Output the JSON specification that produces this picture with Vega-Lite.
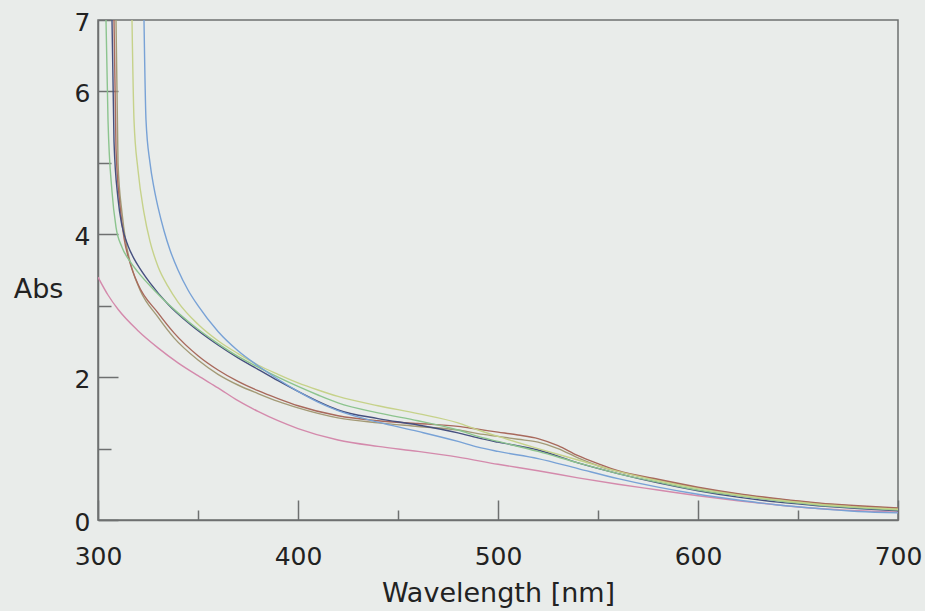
{
  "$schema": "https://vega.github.io/schema/vega-lite/v6.json",
  "width": 800,
  "height": 500,
  "autosize": {"type": "none"},
  "padding": {"left": 98, "top": 20, "right": 27, "bottom": 91},
  "background": "#e9ecea",
  "config": {
    "view": {"stroke": "#6e7070", "strokeWidth": 1.5},
    "axis": {
      "grid": false,
      "domainColor": "#6e7070",
      "domainWidth": 1.5,
      "tickColor": "#6e7070",
      "tickWidth": 1.5,
      "labelFont": "DejaVu Sans",
      "labelFontSize": 25,
      "labelColor": "#222222",
      "titleFont": "DejaVu Sans",
      "titleFontSize": 27,
      "titleFontWeight": "normal",
      "titleColor": "#222222"
    }
  },
  "datasets": {
    "spectra": [
      {"s": "pink", "w": 300, "a": 3.4}, {"s": "pink", "w": 305, "a": 3.15}, {"s": "pink", "w": 310, "a": 2.95}, {"s": "pink", "w": 320, "a": 2.65}, {"s": "pink", "w": 330, "a": 2.41}, {"s": "pink", "w": 340, "a": 2.2}, {"s": "pink", "w": 350, "a": 2.02}, {"s": "pink", "w": 360, "a": 1.85}, {"s": "pink", "w": 370, "a": 1.67}, {"s": "pink", "w": 380, "a": 1.52}, {"s": "pink", "w": 390, "a": 1.39}, {"s": "pink", "w": 400, "a": 1.28}, {"s": "pink", "w": 420, "a": 1.12}, {"s": "pink", "w": 440, "a": 1.03}, {"s": "pink", "w": 460, "a": 0.96}, {"s": "pink", "w": 480, "a": 0.88}, {"s": "pink", "w": 500, "a": 0.78}, {"s": "pink", "w": 520, "a": 0.69}, {"s": "pink", "w": 540, "a": 0.59}, {"s": "pink", "w": 560, "a": 0.5}, {"s": "pink", "w": 580, "a": 0.42}, {"s": "pink", "w": 600, "a": 0.34}, {"s": "pink", "w": 620, "a": 0.27}, {"s": "pink", "w": 640, "a": 0.21}, {"s": "pink", "w": 660, "a": 0.16}, {"s": "pink", "w": 680, "a": 0.13}, {"s": "pink", "w": 700, "a": 0.11},

      {"s": "olive", "w": 309, "a": 7}, {"s": "olive", "w": 310, "a": 5.0}, {"s": "olive", "w": 312, "a": 4.3}, {"s": "olive", "w": 314, "a": 3.88}, {"s": "olive", "w": 317, "a": 3.52}, {"s": "olive", "w": 321, "a": 3.22}, {"s": "olive", "w": 330, "a": 2.84}, {"s": "olive", "w": 338, "a": 2.55}, {"s": "olive", "w": 350, "a": 2.24}, {"s": "olive", "w": 360, "a": 2.04}, {"s": "olive", "w": 370, "a": 1.89}, {"s": "olive", "w": 380, "a": 1.77}, {"s": "olive", "w": 390, "a": 1.66}, {"s": "olive", "w": 400, "a": 1.57}, {"s": "olive", "w": 420, "a": 1.43}, {"s": "olive", "w": 440, "a": 1.36}, {"s": "olive", "w": 460, "a": 1.31}, {"s": "olive", "w": 480, "a": 1.26}, {"s": "olive", "w": 490, "a": 1.21}, {"s": "olive", "w": 500, "a": 1.17}, {"s": "olive", "w": 510, "a": 1.13}, {"s": "olive", "w": 520, "a": 1.09}, {"s": "olive", "w": 530, "a": 1.0}, {"s": "olive", "w": 540, "a": 0.87}, {"s": "olive", "w": 550, "a": 0.76}, {"s": "olive", "w": 560, "a": 0.68}, {"s": "olive", "w": 580, "a": 0.56}, {"s": "olive", "w": 600, "a": 0.45}, {"s": "olive", "w": 620, "a": 0.36}, {"s": "olive", "w": 640, "a": 0.29}, {"s": "olive", "w": 660, "a": 0.23}, {"s": "olive", "w": 680, "a": 0.19}, {"s": "olive", "w": 700, "a": 0.16},

      {"s": "red", "w": 308, "a": 7}, {"s": "red", "w": 309, "a": 5.2}, {"s": "red", "w": 311, "a": 4.4}, {"s": "red", "w": 313, "a": 3.95}, {"s": "red", "w": 316, "a": 3.6}, {"s": "red", "w": 320, "a": 3.3}, {"s": "red", "w": 330, "a": 2.9}, {"s": "red", "w": 338, "a": 2.62}, {"s": "red", "w": 350, "a": 2.3}, {"s": "red", "w": 360, "a": 2.1}, {"s": "red", "w": 370, "a": 1.94}, {"s": "red", "w": 380, "a": 1.81}, {"s": "red", "w": 390, "a": 1.7}, {"s": "red", "w": 400, "a": 1.6}, {"s": "red", "w": 420, "a": 1.46}, {"s": "red", "w": 440, "a": 1.39}, {"s": "red", "w": 460, "a": 1.35}, {"s": "red", "w": 480, "a": 1.31}, {"s": "red", "w": 490, "a": 1.27}, {"s": "red", "w": 500, "a": 1.23}, {"s": "red", "w": 510, "a": 1.19}, {"s": "red", "w": 520, "a": 1.14}, {"s": "red", "w": 530, "a": 1.04}, {"s": "red", "w": 540, "a": 0.9}, {"s": "red", "w": 550, "a": 0.79}, {"s": "red", "w": 560, "a": 0.69}, {"s": "red", "w": 580, "a": 0.57}, {"s": "red", "w": 600, "a": 0.46}, {"s": "red", "w": 620, "a": 0.37}, {"s": "red", "w": 640, "a": 0.3}, {"s": "red", "w": 660, "a": 0.24}, {"s": "red", "w": 680, "a": 0.2}, {"s": "red", "w": 700, "a": 0.17},

      {"s": "navy", "w": 307, "a": 7}, {"s": "navy", "w": 308, "a": 5.3}, {"s": "navy", "w": 310, "a": 4.5}, {"s": "navy", "w": 312, "a": 4.12}, {"s": "navy", "w": 315, "a": 3.84}, {"s": "navy", "w": 318, "a": 3.66}, {"s": "navy", "w": 321, "a": 3.52}, {"s": "navy", "w": 326, "a": 3.32}, {"s": "navy", "w": 335, "a": 3.02}, {"s": "navy", "w": 346, "a": 2.74}, {"s": "navy", "w": 360, "a": 2.45}, {"s": "navy", "w": 370, "a": 2.27}, {"s": "navy", "w": 380, "a": 2.11}, {"s": "navy", "w": 390, "a": 1.95}, {"s": "navy", "w": 400, "a": 1.8}, {"s": "navy", "w": 410, "a": 1.66}, {"s": "navy", "w": 420, "a": 1.54}, {"s": "navy", "w": 440, "a": 1.42}, {"s": "navy", "w": 460, "a": 1.33}, {"s": "navy", "w": 480, "a": 1.22}, {"s": "navy", "w": 490, "a": 1.15}, {"s": "navy", "w": 500, "a": 1.09}, {"s": "navy", "w": 520, "a": 0.98}, {"s": "navy", "w": 540, "a": 0.8}, {"s": "navy", "w": 560, "a": 0.65}, {"s": "navy", "w": 580, "a": 0.52}, {"s": "navy", "w": 600, "a": 0.41}, {"s": "navy", "w": 620, "a": 0.32}, {"s": "navy", "w": 640, "a": 0.25}, {"s": "navy", "w": 660, "a": 0.2}, {"s": "navy", "w": 680, "a": 0.16}, {"s": "navy", "w": 700, "a": 0.13},

      {"s": "green", "w": 304, "a": 7}, {"s": "green", "w": 305, "a": 5.6}, {"s": "green", "w": 307, "a": 4.6}, {"s": "green", "w": 309, "a": 4.1}, {"s": "green", "w": 312, "a": 3.82}, {"s": "green", "w": 316, "a": 3.62}, {"s": "green", "w": 320, "a": 3.47}, {"s": "green", "w": 328, "a": 3.22}, {"s": "green", "w": 340, "a": 2.9}, {"s": "green", "w": 350, "a": 2.67}, {"s": "green", "w": 360, "a": 2.47}, {"s": "green", "w": 370, "a": 2.29}, {"s": "green", "w": 380, "a": 2.14}, {"s": "green", "w": 390, "a": 2.0}, {"s": "green", "w": 400, "a": 1.87}, {"s": "green", "w": 410, "a": 1.75}, {"s": "green", "w": 420, "a": 1.64}, {"s": "green", "w": 440, "a": 1.5}, {"s": "green", "w": 460, "a": 1.39}, {"s": "green", "w": 480, "a": 1.26}, {"s": "green", "w": 490, "a": 1.17}, {"s": "green", "w": 500, "a": 1.1}, {"s": "green", "w": 520, "a": 0.96}, {"s": "green", "w": 540, "a": 0.8}, {"s": "green", "w": 560, "a": 0.65}, {"s": "green", "w": 580, "a": 0.53}, {"s": "green", "w": 600, "a": 0.42}, {"s": "green", "w": 620, "a": 0.34}, {"s": "green", "w": 640, "a": 0.27}, {"s": "green", "w": 660, "a": 0.21}, {"s": "green", "w": 680, "a": 0.17}, {"s": "green", "w": 700, "a": 0.14},

      {"s": "yellow", "w": 317, "a": 7}, {"s": "yellow", "w": 318, "a": 5.6}, {"s": "yellow", "w": 320, "a": 4.9}, {"s": "yellow", "w": 323, "a": 4.3}, {"s": "yellow", "w": 326, "a": 3.9}, {"s": "yellow", "w": 330, "a": 3.55}, {"s": "yellow", "w": 335, "a": 3.27}, {"s": "yellow", "w": 340, "a": 3.05}, {"s": "yellow", "w": 350, "a": 2.74}, {"s": "yellow", "w": 360, "a": 2.51}, {"s": "yellow", "w": 370, "a": 2.33}, {"s": "yellow", "w": 380, "a": 2.17}, {"s": "yellow", "w": 390, "a": 2.04}, {"s": "yellow", "w": 400, "a": 1.92}, {"s": "yellow", "w": 410, "a": 1.82}, {"s": "yellow", "w": 420, "a": 1.73}, {"s": "yellow", "w": 440, "a": 1.6}, {"s": "yellow", "w": 460, "a": 1.49}, {"s": "yellow", "w": 480, "a": 1.36}, {"s": "yellow", "w": 490, "a": 1.26}, {"s": "yellow", "w": 500, "a": 1.17}, {"s": "yellow", "w": 520, "a": 1.0}, {"s": "yellow", "w": 540, "a": 0.84}, {"s": "yellow", "w": 560, "a": 0.68}, {"s": "yellow", "w": 580, "a": 0.55}, {"s": "yellow", "w": 600, "a": 0.44}, {"s": "yellow", "w": 620, "a": 0.35}, {"s": "yellow", "w": 640, "a": 0.28}, {"s": "yellow", "w": 660, "a": 0.22}, {"s": "yellow", "w": 680, "a": 0.18}, {"s": "yellow", "w": 700, "a": 0.15},

      {"s": "blue", "w": 323, "a": 7}, {"s": "blue", "w": 324, "a": 5.6}, {"s": "blue", "w": 326, "a": 5.0}, {"s": "blue", "w": 328, "a": 4.65}, {"s": "blue", "w": 330, "a": 4.38}, {"s": "blue", "w": 333, "a": 4.05}, {"s": "blue", "w": 336, "a": 3.78}, {"s": "blue", "w": 340, "a": 3.5}, {"s": "blue", "w": 345, "a": 3.22}, {"s": "blue", "w": 350, "a": 3.0}, {"s": "blue", "w": 360, "a": 2.64}, {"s": "blue", "w": 370, "a": 2.37}, {"s": "blue", "w": 380, "a": 2.16}, {"s": "blue", "w": 390, "a": 1.97}, {"s": "blue", "w": 400, "a": 1.8}, {"s": "blue", "w": 410, "a": 1.65}, {"s": "blue", "w": 420, "a": 1.53}, {"s": "blue", "w": 440, "a": 1.37}, {"s": "blue", "w": 460, "a": 1.24}, {"s": "blue", "w": 480, "a": 1.1}, {"s": "blue", "w": 490, "a": 1.02}, {"s": "blue", "w": 500, "a": 0.96}, {"s": "blue", "w": 520, "a": 0.86}, {"s": "blue", "w": 540, "a": 0.72}, {"s": "blue", "w": 560, "a": 0.58}, {"s": "blue", "w": 580, "a": 0.46}, {"s": "blue", "w": 600, "a": 0.36}, {"s": "blue", "w": 620, "a": 0.28}, {"s": "blue", "w": 640, "a": 0.21}, {"s": "blue", "w": 660, "a": 0.16}, {"s": "blue", "w": 680, "a": 0.12}, {"s": "blue", "w": 700, "a": 0.1}
    ]
  },
  "data": {"name": "spectra"},
  "mark": {"type": "line", "interpolate": "monotone", "strokeWidth": 1.4, "clip": true},
  "encoding": {
    "x": {
      "field": "w",
      "type": "quantitative",
      "scale": {"domain": [300, 700], "nice": false, "zero": false},
      "axis": {
        "title": "Wavelength [nm]",
        "values": [300, 350, 400, 450, 500, 550, 600, 650, 700],
        "labelExpr": "datum.value % 100 === 0 ? datum.label : ''",
        "labelFlush": false,
        "labelOverlap": false,
        "tickSize": {"condition": {"test": "datum.value % 100 === 0", "value": -20}, "value": -10},
        "labelPadding": 44,
        "titleY": 60,
        "titleBaseline": "top"
      }
    },
    "y": {
      "field": "a",
      "type": "quantitative",
      "scale": {"domain": [0, 7], "nice": false},
      "axis": {
        "title": "Abs",
        "titleAngle": 0,
        "titleAlign": "center",
        "titleBaseline": "alphabetic",
        "titleX": -60,
        "titleY": 277,
        "values": [0, 1, 2, 3, 4, 5, 6, 7],
        "labelExpr": "datum.value % 2 === 0 || datum.value === 7 ? datum.label : ''",
        "labelFlush": false,
        "labelOverlap": false,
        "labelOffset": 2,
        "tickSize": {"condition": {"test": "datum.value % 2 === 1", "value": -13}, "value": -20},
        "labelPadding": {"condition": {"test": "datum.value % 2 === 1", "value": 21}, "value": 28}
      }
    },
    "color": {
      "field": "s",
      "type": "nominal",
      "scale": {
        "domain": ["pink", "olive", "red", "navy", "green", "yellow", "blue"],
        "range": ["#d48aac", "#a39a76", "#a8695c", "#46507f", "#8cc48e", "#c6d28a", "#78a2d6"]
      },
      "legend": null
    }
  }
}
